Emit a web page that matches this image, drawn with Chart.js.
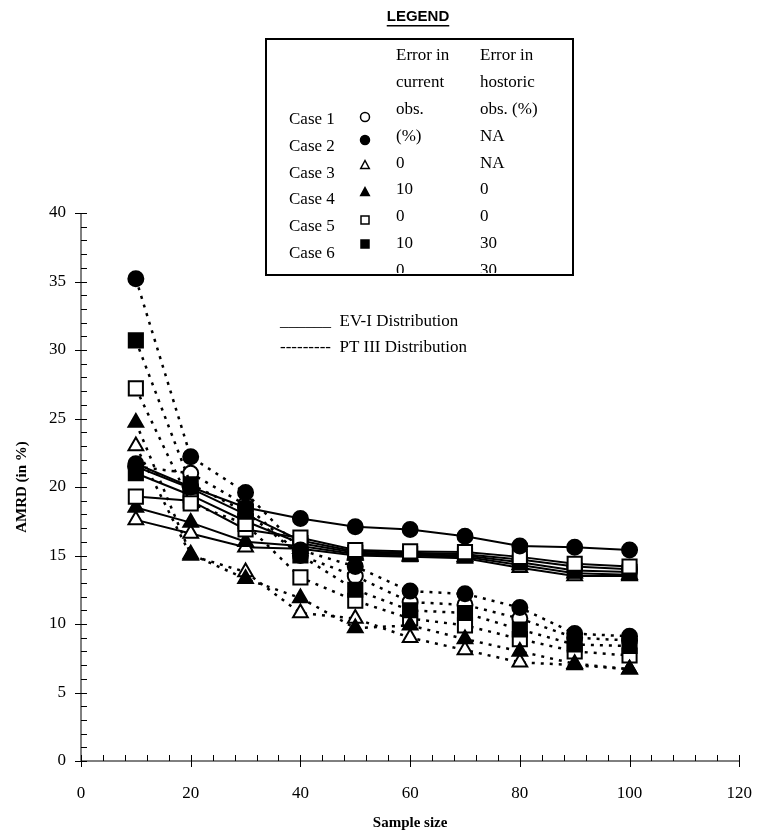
<!DOCTYPE html>
<html>
<head>
<meta charset="utf-8">
<script src="https://cdn.jsdelivr.net/npm/chart.js@4.4.1/dist/chart.umd.min.js"></script>
<style>
body { margin: 0; background: #fff; }
#wrap { width: 774px; height: 836px; }
</style>
</head>
<body>
<div id="wrap"><canvas id="myChart" width="774" height="836"></canvas></div>
<script>
// sample sizes on the x axis
const sampleSize = [10, 20, 30, 40, 50, 60, 70, 80, 90, 100]
const caseNames = ["Case 1", "Case 2", "Case 3", "Case 4", "Case 5", "Case 6"]

// AMRD (%) - EV-I distribution (solid lines)
const ev1 = [21.5, 19.9, 18.0, 16.1, 15.3, 15.2, 15.1, 14.7, 14.2, 14.0]
const ev2 = [21.7, 20.0, 18.5, 17.7, 17.1, 16.9, 16.4, 15.7, 15.6, 15.4]
const ev3 = [17.6, 16.6, 15.6, 15.5, 15.0, 14.9, 14.8, 14.1, 13.5, 13.5]
const ev4 = [18.5, 17.4, 16.0, 15.7, 15.1, 15.0, 14.9, 14.3, 13.7, 13.6]
const ev5 = [19.3, 19.0, 16.9, 16.3, 15.4, 15.3, 15.25, 14.9, 14.4, 14.2]
const ev6 = [21.0, 19.4, 17.5, 15.9, 15.2, 15.1, 15.0, 14.5, 13.9, 13.8]

// AMRD (%) - PT III distribution (dotted lines)
const pt1 = [21.5, 21.0, 18.7, 15.0, 13.5, 11.6, 11.4, 10.4, 9.0, 8.8]
const pt2 = [35.2, 22.2, 19.6, 15.4, 14.2, 12.4, 12.2, 11.2, 9.3, 9.1]
const pt3 = [23.0, 15.0, 13.8, 10.8, 10.4, 9.0, 8.1, 7.2, 7.0, 6.7]
const pt4 = [24.7, 15.1, 13.3, 11.9, 9.7, 9.9, 8.9, 8.0, 7.1, 6.7]
const pt5 = [27.2, 18.8, 17.3, 13.4, 11.7, 10.4, 9.9, 8.9, 8.0, 7.7]
const pt6 = [30.7, 20.2, 18.2, 15.0, 12.5, 11.0, 10.8, 9.6, 8.5, 8.4]

// legend table columns
const errCurrent = ["Error in", "current", "obs.", "(%)", "0", "10", "0", "10", "0"]
const errHistoric = ["Error in", "hostoric", "obs. (%)", "NA", "NA", "0", "0", "30", "30"]

const xTicks = [0, 20, 40, 60, 80, 100, 120]
const yTicks = [0, 5, 10, 15, 20, 25, 30, 35, 40]

const evSeries = [ev1, ev2, ev3, ev4, ev5, ev6]
const ptSeries = [pt1, pt2, pt3, pt4, pt5, pt6]
const markers = [
    {style: "circle", radius: 7.5, fill: "#fff"},
    {style: "circle", radius: 7.5, fill: "#000"},
    {style: "triangle", radius: 8.5, fill: "#fff"},
    {style: "triangle", radius: 8.5, fill: "#000"},
    {style: "rect", radius: 10, fill: "#fff"},
    {style: "rect", radius: 10, fill: "#000"}
]
// which series end up on top (lower = drawn later)
const evOrder = [12, 7, 11, 10, 8, 9]
const ptOrder = [13, 1, 4, 3, 6, 2]

const serif = "'Liberation Serif', 'Times New Roman', serif"

function makeSet(name, values, m, dotted, order){
    return {
        label: name,
        data: sampleSize.map((x, i) => ({x: x, y: values[i]})),
        order: order,
        borderColor: "#000",
        borderWidth: dotted ? 2.5 : 2,
        borderDash: dotted ? [3, 6] : [],
        pointStyle: m.style,
        pointRadius: m.radius,
        pointBackgroundColor: m.fill,
        pointBorderColor: "#000",
        pointBorderWidth: 2,
        tension: 0
    }
}

let datasets = []
for (let i = 0; i < 6; i++){
    datasets.push(makeSet(caseNames[i] + " EV-I", evSeries[i], markers[i], false, evOrder[i]))
}
for (let i = 0; i < 6; i++){
    datasets.push(makeSet(caseNames[i] + " PT III", ptSeries[i], markers[i], true, ptOrder[i]))
}

function drawMarker(ctx, m, x, y, r){
    ctx.save()
    ctx.fillStyle = m.fill
    ctx.strokeStyle = "#000"
    ctx.lineWidth = 1.5
    ctx.beginPath()
    if (m.style == "circle"){
        ctx.arc(x, y, r, 0, Math.PI * 2)
    } else if (m.style == "triangle"){
        ctx.moveTo(x, y - r)
        ctx.lineTo(x + r * 0.95, y + r * 0.75)
        ctx.lineTo(x - r * 0.95, y + r * 0.75)
        ctx.closePath()
    } else {
        ctx.rect(x - r, y - r, r * 2, r * 2)
    }
    ctx.fill()
    ctx.stroke()
    ctx.restore()
}

const decor = {
    id: "decor",
    beforeDatasetsDraw(chart){
        const ctx = chart.ctx
        const xs = chart.scales.x
        const ys = chart.scales.y
        const left = chart.chartArea.left
        const bottom = chart.chartArea.bottom
        ctx.save()
        ctx.strokeStyle = "#000"
        ctx.lineWidth = 1
        ctx.beginPath()
        // axes
        ctx.moveTo(left, chart.chartArea.top)
        ctx.lineTo(left, bottom)
        ctx.lineTo(chart.chartArea.right, bottom)
        // y ticks, major ones cross the axis
        for (let v = 0; v <= 40; v++){
            const py = Math.round(ys.getPixelForValue(v)) + 0.5
            ctx.moveTo(v % 5 == 0 ? left - 6 : left, py)
            ctx.lineTo(left + 6, py)
        }
        // x ticks
        for (let v = 0; v <= 120; v += 4){
            const px = Math.round(xs.getPixelForValue(v)) + 0.5
            ctx.moveTo(px, bottom - 6)
            ctx.lineTo(px, v % 20 == 0 ? bottom + 6 : bottom)
        }
        ctx.stroke()
        ctx.restore()
    },
    afterDraw(chart){
        const ctx = chart.ctx
        ctx.save()
        // title of legend
        ctx.fillStyle = "#000"
        ctx.font = "bold 15px 'Liberation Sans', Arial, sans-serif"
        ctx.textAlign = "center"
        ctx.textBaseline = "middle"
        ctx.fillText("LEGEND", 418, 17)
        const w = ctx.measureText("LEGEND").width
        ctx.fillRect(418 - w / 2, 25, w, 1.5)

        // legend box
        ctx.strokeStyle = "#000"
        ctx.lineWidth = 2
        ctx.strokeRect(266, 39, 307, 236)

        ctx.save()
        ctx.beginPath()
        ctx.rect(267, 40, 305, 233)
        ctx.clip()
        ctx.font = "17px " + serif
        ctx.textAlign = "left"
        ctx.textBaseline = "middle"
        const caseY = [120, 147, 174, 200, 227, 254]
        const markY = [117, 140, 165, 192, 220, 244]
        for (let i = 0; i < caseNames.length; i++){
            ctx.fillText(caseNames[i], 289, caseY[i])
            drawMarker(ctx, markers[i], 365, markY[i], i < 4 ? 4.5 : 4)
        }
        for (let i = 0; i < errCurrent.length; i++){
            const y = 56 + i * 26.8
            ctx.fillText(errCurrent[i], 396, y)
            ctx.fillText(errHistoric[i], 480, y)
        }
        ctx.restore()

        // line type key
        ctx.font = "17px " + serif
        ctx.textAlign = "left"
        ctx.textBaseline = "middle"
        ctx.fillText("______  EV-I Distribution", 280, 322)
        ctx.fillText("---------  PT III Distribution", 280, 348)
        ctx.restore()
    }
}

new Chart("myChart", {
    type: "line",
    data: {datasets: datasets},
    options: {
        responsive: false,
        animation: false,
        layout: {padding: {top: 213, right: 18, left: 0, bottom: 0}},
        plugins: {
            legend: {display: false},
            tooltip: {enabled: false}
        },
        scales: {
            x: {
                type: "linear",
                min: 0,
                max: 120,
                afterFit(scale){ scale.height = 75 },
                afterBuildTicks(scale){ scale.ticks = xTicks.map(v => ({value: v})) },
                grid: {display: false, drawTicks: false},
                border: {display: false},
                ticks: {color: "#000", padding: 22, font: {family: serif, size: 17}},
                title: {display: true, text: "Sample size", color: "#000", padding: {top: 4, bottom: 4},
                    font: {family: serif, size: 15, weight: "bold"}}
            },
            y: {
                type: "linear",
                min: 0,
                max: 40,
                afterFit(scale){ scale.width = 81 },
                afterBuildTicks(scale){ scale.ticks = yTicks.map(v => ({value: v})) },
                grid: {display: false, drawTicks: false},
                border: {display: false},
                ticks: {color: "#000", padding: 15, font: {family: serif, size: 17}},
                title: {display: true, text: "AMRD (in %)", color: "#000", padding: {top: 13, bottom: 4},
                    font: {family: serif, size: 15, weight: "bold"}}
            }
        }
    },
    plugins: [decor]
})
</script>
</body>
</html>
